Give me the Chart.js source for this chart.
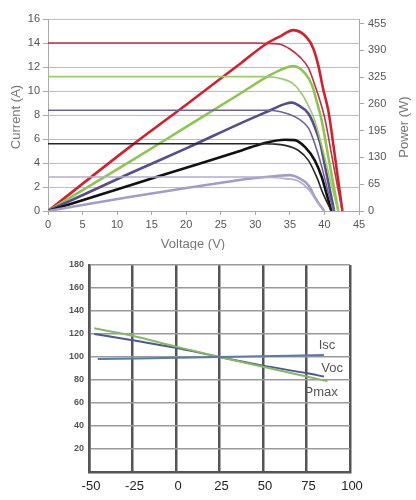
<!DOCTYPE html>
<html>
<head>
<meta charset="utf-8">
<script src="https://cdn.jsdelivr.net/npm/chart.js@4.4.1/dist/chart.umd.min.js"></script>
<style>
  body { margin: 0; background: #fff; }
  canvas { display: block; }
</style>
</head>
<body>
<canvas id="ivChart" width="416" height="250"></canvas>
<canvas id="tempChart" width="416" height="250"></canvas>
<script>
// I-V curves (current in A) by irradiance level
const ivVoltsRed = [0, 30, 32.6, 33.6, 35, 36.5, 37.7, 38.6, 39.4, 40.1, 41, 42, 42.6];
const ivAmpsRed = [14, 14, 13.95, 13.9, 13.5, 12.8, 11.9, 10.5, 9.1, 7.6, 4.8, 1.7, 0];
const ivVoltsGreen = [0, 31, 32.6, 33.6, 35.5, 36.9, 37.9, 38.6, 39.5, 40.5, 41.3, 42];
const ivAmpsGreen = [11.2, 11.2, 11.15, 11.05, 10.6, 9.6, 8.5, 7.55, 5.7, 3.4, 1.5, 0];
const ivVoltsPurple = [0, 32, 34.3, 36.2, 37.7, 38.6, 39.6, 40.6, 41.4];
const ivAmpsPurple = [8.4, 8.4, 8.17, 7.7, 6.9, 5.6, 3.7, 1.45, 0];
const ivVoltsBlack = [0, 31, 32.6, 34.3, 36.2, 37.7, 38.9, 39.8, 41];
const ivAmpsBlack = [5.6, 5.6, 5.58, 5.47, 5.06, 4.2, 2.8, 1.45, 0];
const ivVoltsLilac = [0, 30, 34.3, 36.2, 37.7, 38.9, 40];
const ivAmpsLilac = [2.83, 2.83, 2.7, 2.5, 1.8, 0.8, 0];

// P-V curves (power in W)
const pvVoltsRed = [0, 11.8, 20, 28, 31.6, 33.6, 35.5, 37.4, 38.4, 39.1, 39.8, 40.6, 41.5, 42, 42.6];
const pvWattsRed = [0, 155, 258, 360, 406, 424, 439, 422, 394, 354, 297, 240, 135, 73, 0];
const pvVoltsGreen = [0, 11.8, 20, 28, 31.6, 33.6, 35.5, 37.2, 38.2, 38.9, 39.6, 40.5, 41.3, 42];
const pvWattsGreen = [0, 119, 204, 287, 325, 342, 352, 334, 305, 265, 220, 137, 64, 0];
const pvVoltsPurple = [0, 11.8, 20, 28, 32.1, 34.3, 35.3, 36.2, 37.7, 38.6, 39.4, 40.1, 40.8, 41.4];
const pvWattsPurple = [0, 91, 152, 214, 244, 260, 263, 257, 236, 204, 164, 107, 50, 0];
const pvVoltsBlack = [0, 11.8, 20, 28, 31.1, 34.3, 35.7, 37.2, 38.6, 39.6, 40.3, 41];
const pvWattsBlack = [0, 62, 105, 147, 164, 173, 172, 155, 123, 83, 42, 0];
const pvVoltsLilac = [0, 11.8, 20, 26, 30, 33, 35, 36.2, 37.7, 38.6, 39.3, 40];
const pvWattsLilac = [0, 34, 56, 71, 80, 85, 87, 81, 62, 34, 15, 0];

const powerTicks = [0, 65, 130, 195, 260, 325, 390, 455];

// temperature dependence (% of value at 25 °C)
const iscTemps = [-45, 25, 85];
const iscValues = [98.2, 100, 101.8];
const vocTemps = [-47, -25, 0, 25, 50, 75, 85];
const vocValues = [120, 114.5, 108, 100, 92.5, 86, 83];
const pmaxTemps = [-47, -25, 0, 25, 50, 75, 87];
const pmaxValues = [125, 118.5, 109, 100, 91.5, 83, 79];
const tempLabels = [
  { text: 'Isc', t: 86.8, v: 109.7 },
  { text: 'Voc', t: 89.7, v: 89.8 },
  { text: 'Pmax', t: 83.4, v: 69.1 }
];

const pts = (xs, ys) => xs.map((x, i) => ({ x: x, y: ys[i] }));

function curve(xs, ys, color, width, axis) {
  return {
    data: pts(xs, ys),
    borderColor: color,
    borderWidth: width,
    showLine: true,
    pointRadius: 0,
    cubicInterpolationMode: 'monotone',
    yAxisID: axis
  };
}

const ivTitles = {
  id: 'ivTitles',
  afterDraw(chart) {
    const ctx = chart.ctx;
    const a = chart.chartArea;
    ctx.save();
    ctx.fillStyle = '#777';
    ctx.font = '13px "Liberation Sans", Arial, sans-serif';
    ctx.textAlign = 'center';
    ctx.textBaseline = 'middle';
    ctx.fillText('Voltage (V)', a.left + 145, 244);
    ctx.translate(16, a.top + 98);
    ctx.rotate(-Math.PI / 2);
    ctx.fillText('Current (A)', 0, 0);
    ctx.restore();
    ctx.save();
    ctx.fillStyle = '#777';
    ctx.font = '13px "Liberation Sans", Arial, sans-serif';
    ctx.textAlign = 'center';
    ctx.textBaseline = 'middle';
    ctx.translate(404, a.top + 108);
    ctx.rotate(-Math.PI / 2);
    ctx.fillText('Power (W)', 0, 0);
    ctx.restore();
  }
};

const tickFont = { family: '"Liberation Sans", Arial, sans-serif', size: 11 };

new Chart(document.getElementById('ivChart').getContext('2d'), {
  type: 'scatter',
  data: {
    datasets: [
      curve(ivVoltsLilac, ivAmpsLilac, '#b2accf', 1.6, 'y'),
      curve(ivVoltsBlack, ivAmpsBlack, '#262626', 1.6, 'y'),
      curve(ivVoltsPurple, ivAmpsPurple, '#6c6298', 1.6, 'y'),
      curve(ivVoltsGreen, ivAmpsGreen, '#9acd6a', 1.6, 'y'),
      curve(ivVoltsRed, ivAmpsRed, '#bf3046', 1.6, 'y'),
      curve(pvVoltsLilac, pvWattsLilac, '#a49cc6', 2.6, 'y1'),
      curve(pvVoltsBlack, pvWattsBlack, '#111111', 2.6, 'y1'),
      curve(pvVoltsPurple, pvWattsPurple, '#584c8c', 2.6, 'y1'),
      curve(pvVoltsGreen, pvWattsGreen, '#8cc64e', 2.6, 'y1'),
      curve(pvVoltsRed, pvWattsRed, '#d41f2e', 2.6, 'y1')
    ]
  },
  options: {
    responsive: false,
    animation: false,
    layout: { padding: { top: 19, left: 0, right: 0, bottom: 0 } },
    plugins: { legend: { display: false }, tooltip: { enabled: false } },
    scales: {
      x: {
        type: 'linear', min: 0, max: 45,
        ticks: { stepSize: 5, color: '#555', font: tickFont, padding: 3, maxRotation: 0 },
        grid: { drawOnChartArea: false, tickLength: 4, color: '#aaa' },
        border: { color: '#aaa' },
        afterFit(scale) { scale.height = 39; }
      },
      y: {
        min: 0, max: 16,
        ticks: { stepSize: 2, color: '#555', font: tickFont, padding: 3 },
        grid: { color: '#bdbdbd', tickLength: 5, tickColor: '#aaa' },
        border: { color: '#aaa' },
        afterFit(scale) { scale.width = 48; }
      },
      y1: {
        position: 'right', min: 0, max: 466,
        ticks: { color: '#555', font: tickFont, padding: 4 },
        grid: { drawOnChartArea: false, tickLength: 5, color: '#aaa' },
        border: { color: '#aaa' },
        afterBuildTicks(scale) { scale.ticks = powerTicks.map(v => ({ value: v })); },
        afterFit(scale) { scale.width = 57; }
      }
    }
  },
  plugins: [ivTitles]
});

const tempText = {
  id: 'tempText',
  afterDraw(chart) {
    const ctx = chart.ctx;
    const xs = chart.scales.x;
    const ys = chart.scales.y;
    ctx.save();
    ctx.fillStyle = '#555';
    ctx.font = '13px "Liberation Sans", Arial, sans-serif';
    ctx.textAlign = 'center';
    ctx.textBaseline = 'middle';
    tempLabels.forEach(l => ctx.fillText(l.text, xs.getPixelForValue(l.t), ys.getPixelForValue(l.v)));
    ctx.restore();
  }
};

new Chart(document.getElementById('tempChart').getContext('2d'), {
  type: 'scatter',
  data: {
    datasets: [
      curve(iscTemps, iscValues, '#5b7aa6', 2, 'y'),
      curve(pmaxTemps, pmaxValues, '#86b866', 2, 'y'),
      curve(vocTemps, vocValues, '#4b5a8e', 2, 'y')
    ]
  },
  options: {
    responsive: false,
    animation: false,
    layout: { padding: { top: 15, left: 0, right: 66, bottom: 0 } },
    plugins: { legend: { display: false }, tooltip: { enabled: false } },
    scales: {
      x: {
        type: 'linear', min: -50, max: 100,
        ticks: { stepSize: 25, color: '#222', font: { family: '"Liberation Sans", Arial, sans-serif', size: 13 }, padding: 7, labelOffset: 2, maxRotation: 0 },
        grid: { color: '#555', lineWidth: 2.5, drawTicks: false },
        border: { color: '#555', width: 2.5 },
        afterFit(scale) { scale.height = 28; }
      },
      y: {
        min: 0, max: 180,
        ticks: {
          stepSize: 20, color: '#555', padding: 5,
          font: { family: '"Liberation Sans", Arial, sans-serif', size: 9, weight: 'bold' },
          callback: v => (v === 0 ? '' : v)
        },
        grid: { color: '#9a9a9a', lineWidth: 1.5, drawTicks: false },
        border: { color: '#555', width: 2.5 },
        afterFit(scale) { scale.width = 89; }
      }
    }
  },
  plugins: [tempText]
});
</script>
</body>
</html>
